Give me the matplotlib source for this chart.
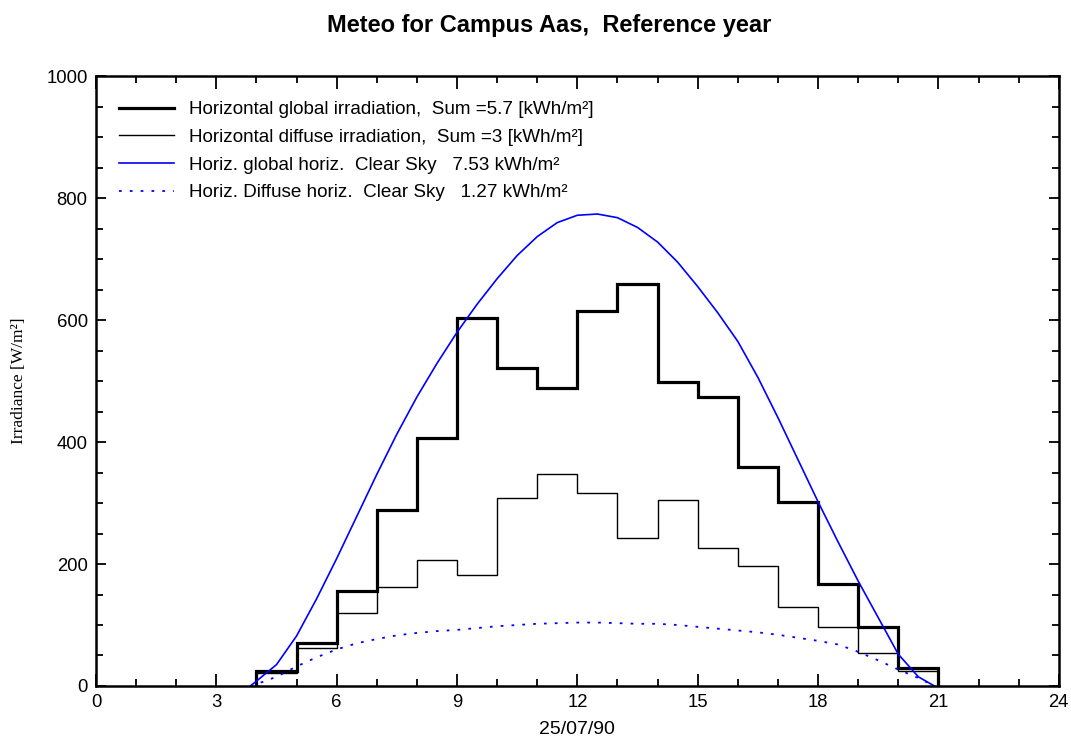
import numpy as np
import matplotlib
matplotlib.use('Agg')
import matplotlib.pyplot as plt
from matplotlib.ticker import MultipleLocator

plt.rcParams['font.family'] = ['Liberation Sans', 'DejaVu Sans']

# hourly bins (start of each hour) for the measured values
hour_edges = [4, 5, 6, 7, 8, 9, 10, 11, 12, 13, 14, 15, 16, 17, 18, 19, 20, 21]
global_irr = [25, 70, 155, 289, 407, 603, 521, 489, 615, 660, 498, 474, 359, 302, 168, 97, 30]
diffuse_irr = [22, 63, 120, 162, 206, 182, 308, 348, 316, 243, 305, 227, 197, 130, 96, 54, 25]

# clear sky model, half-hour resolution
cs_hours = [3.85, 4.0, 4.5, 5.0, 5.5, 6.0, 6.5, 7.0, 7.5, 8.0, 8.5, 9.0, 9.5, 10.0,
            10.5, 11.0, 11.5, 12.0, 12.5, 13.0, 13.5, 14.0, 14.5, 15.0, 15.5, 16.0,
            16.5, 17.0, 17.5, 18.0, 18.5, 19.0, 19.5, 20.0, 20.5, 20.9]
cs_global = [0, 8, 35, 82, 143, 209, 278, 347, 413, 474, 529, 580, 626, 668,
             706, 737, 760, 772, 774, 768, 752, 728, 695, 655, 612, 565,
             506, 440, 371, 302, 236, 172, 112, 52, 15, 0]
cs_diffuse = [0, 3, 15, 32, 47, 60, 70, 77, 83, 87, 90, 92, 95, 98,
              100, 102, 103, 104, 104, 103, 102, 102, 100, 97, 94, 91,
              88, 84, 79, 74, 68, 56, 42, 27, 13, 0]

labels = ['Horizontal global irradiation,  Sum =5.7 [kWh/m\u00b2]',
          'Horizontal diffuse irradiation,  Sum =3 [kWh/m\u00b2]',
          'Horiz. global horiz.  Clear Sky   7.53 kWh/m\u00b2',
          'Horiz. Diffuse horiz.  Clear Sky   1.27 kWh/m\u00b2']

fig = plt.figure(figsize=(10.71, 7.40), dpi=100)
ax = fig.add_axes([0.0896, 0.073, 0.899, 0.824])

ax.stairs(global_irr, hour_edges, baseline=0, color='black', lw=2.3, label=labels[0])
ax.stairs(diffuse_irr, hour_edges, baseline=0, color='black', lw=1.0, label=labels[1])
ax.plot(cs_hours, cs_global, color='#0000ff', lw=1.2, label=labels[2])
ax.plot(cs_hours, cs_diffuse, color='#0000ff', lw=1.3, linestyle=(0, (1.5, 4.5)), label=labels[3])

ax.set_xlim(0, 24)
ax.set_ylim(0, 1000)
ax.xaxis.set_major_locator(MultipleLocator(3))
ax.xaxis.set_minor_locator(MultipleLocator(1))
ax.yaxis.set_major_locator(MultipleLocator(200))
ax.yaxis.set_minor_locator(MultipleLocator(50))
ax.tick_params(which='both', direction='in', top=True, right=True, width=1.3, labelsize=13.3, pad=6)
ax.tick_params(axis='x', which='major', length=9)
ax.tick_params(axis='x', which='minor', length=5)
ax.tick_params(axis='y', which='major', length=7)
ax.tick_params(axis='y', which='minor', length=5)
for sp in ax.spines.values():
    sp.set_linewidth(1.8)

ax.set_xlabel('25/07/90', fontsize=14, labelpad=7)
ax.set_ylabel('Irradiance [W/m\u00b2]', fontsize=12.5, family=['Liberation Serif', 'DejaVu Serif'], labelpad=14)

fig.text(0.513, 0.965, 'Meteo for Campus Aas,  Reference year', ha='center', va='center',
         fontsize=17, fontweight='bold')

leg = ax.legend(loc='upper left', bbox_to_anchor=(0.006, 0.987), frameon=False,
                fontsize=13.6, handlelength=2.9, handletextpad=0.8, labelspacing=0.55)

fig.savefig('out.png', dpi=100)
